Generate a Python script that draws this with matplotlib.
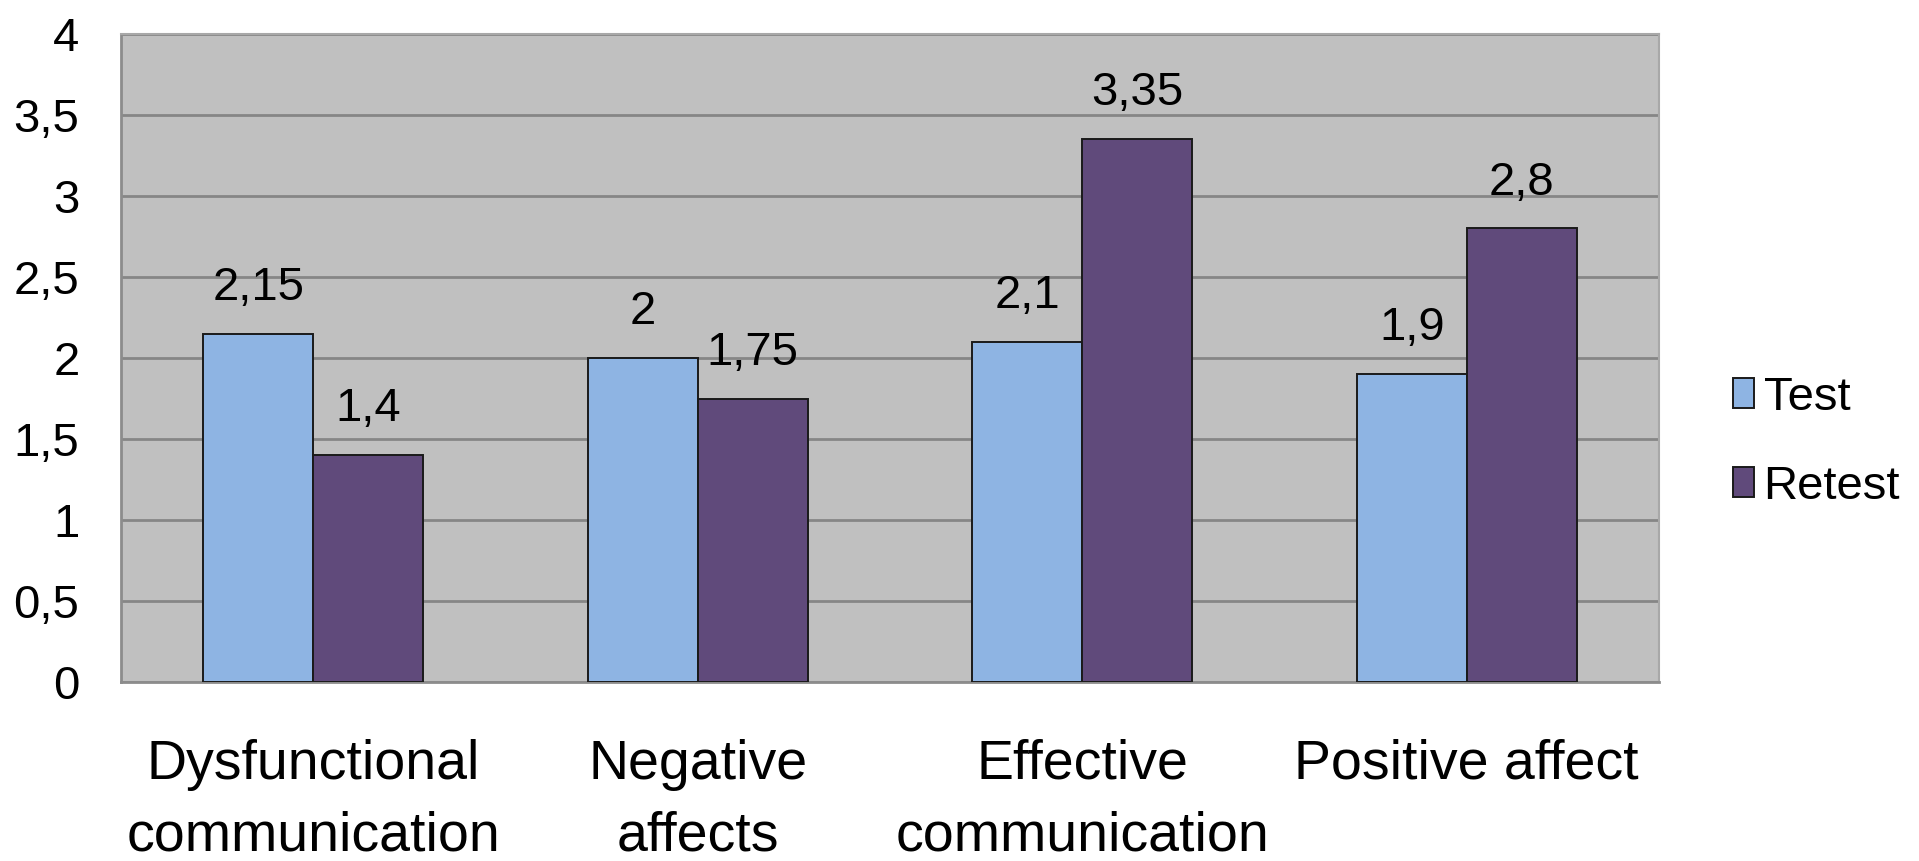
import matplotlib
matplotlib.use("Agg")
import matplotlib.pyplot as plt
import numpy as np
from matplotlib.ticker import FuncFormatter, MultipleLocator

plt.rcParams["font.family"] = ["Liberation Sans", "DejaVu Sans"]

# ---- data ---------------------------------------------------------------
categories = ["Dysfunctional\ncommunication", "Negative\naffects",
              "Effective\ncommunication", "Positive affect"]
test = [2.15, 2.0, 2.1, 1.9]
retest = [1.4, 1.75, 3.35, 2.8]
series_names = ["Test", "Retest"]

# ---- style --------------------------------------------------------------
PLOT_BG = "#C0C0C0"
GRID = "#868686"
TEST_FILL = "#8EB4E3"
RETEST_FILL = "#604A7B"
EDGE = "#1a1a1a"


def comma(v, _pos=None):
    s = f"{v:g}"
    return s.replace(".", ",")


fig = plt.figure(figsize=(19.19, 8.61), dpi=100)
ax = fig.add_axes([0.0631, 0.2079, 0.8014, 0.7526])
ax.set_facecolor(PLOT_BG)

x = np.arange(len(categories))
w = 1 / 3.5  # two bars + 150% gap

bars_t = ax.bar(x - w / 2, test, w, color=TEST_FILL, edgecolor=EDGE,
                linewidth=1.4, label=series_names[0], zorder=3)
bars_r = ax.bar(x + w / 2, retest, w, color=RETEST_FILL, edgecolor=EDGE,
                linewidth=1.4, label=series_names[1], zorder=3)

for bars, vals in ((bars_t, test), (bars_r, retest)):
    for b, v in zip(bars, vals):
        ax.annotate(comma(v), (b.get_x() + b.get_width() / 2, v),
                    xytext=(0, 33), textcoords="offset points",
                    ha="center", va="center", fontsize=34, color="black",
                    zorder=4)

ax.set_xlim(-0.5, len(categories) - 0.5)
ax.set_ylim(0, 4)
ax.yaxis.set_major_locator(MultipleLocator(0.5))
ax.yaxis.set_major_formatter(FuncFormatter(comma))
ax.grid(axis="y", color=GRID, linewidth=2.0, zorder=1)
ax.set_axisbelow(True)

ax.set_xticks(x)
ax.set_xticklabels(categories, fontsize=40, linespacing=1.5)
ax.tick_params(axis="x", length=0, pad=41)
ax.tick_params(axis="y", length=0, pad=30, labelsize=34)

for side in ("top", "right"):
    ax.spines[side].set_color("#a8a8a8")
    ax.spines[side].set_linewidth(1.5)
for side in ("left", "bottom"):
    ax.spines[side].set_color("#8c8c8c")
    ax.spines[side].set_linewidth(2.0)

leg = fig.legend(handles=[bars_t, bars_r], labels=series_names,
                 loc="center left", bbox_to_anchor=(0.903, 0.486),
                 frameon=False, fontsize=34, handlelength=0.45,
                 handleheight=0.6, handletextpad=0.2, labelspacing=0.95,
                 borderpad=0, borderaxespad=0)

fig.savefig("out.png", dpi=100, facecolor="white")
